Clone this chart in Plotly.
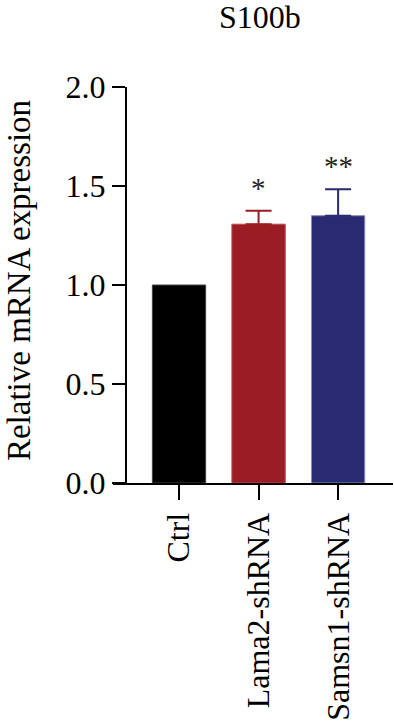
import plotly.graph_objects as go

categories = ["Ctrl", "Lama2-shRNA", "Samsn1-shRNA"]
values = [1.0, 1.307, 1.35]
errors = [0.0, 0.068, 0.133]
colors = ["#000000", "#9B1C22", "#292A72"]
edge_colors = ["#444444", "#B8484D", "#8C8CB8"]
stars = ["", "*", "**"]
y_ticks = [0.0, 0.5, 1.0, 1.5, 2.0]
y_tick_labels = ["0.0", "0.5", "1.0", "1.5", "2.0"]
title = "S100b"
y_title = "Relative mRNA expression"

W, H = 394, 723
ML, MR, MT, MB = 113, 1, 87, 240
PW = W - ML - MR
FONT = "Liberation Serif"
FS = 32


def px_to_paper_x(page_x):
    return (page_x - ML) / PW


fig = go.Figure()
for i, (c, v, e, col, ec) in enumerate(zip(categories, values, errors, colors, edge_colors)):
    fig.add_trace(go.Bar(
        x=[i], y=[v], width=0.67,
        marker=dict(color=col, line=dict(width=1, color=ec)),
        error_y=dict(type="data", symmetric=False, array=[e], arrayminus=[0],
                     color=col, thickness=2, width=13, visible=e > 0),
        showlegend=False, hoverinfo="skip",
    ))

for i, (v, e, s) in enumerate(zip(values, errors, stars)):
    if s:
        fig.add_annotation(x=i, y=v + e, xref="x", yref="y", text=s,
                           showarrow=False, yanchor="bottom", yshift=5,
                           font=dict(family=FONT, size=29, color="#222"))

fig.add_annotation(x=px_to_paper_x(260), y=1, xref="paper", yref="paper",
                   xanchor="center", yanchor="bottom", yshift=50, text=title,
                   showarrow=False, font=dict(family=FONT, size=FS, color="#000"))
fig.add_annotation(x=px_to_paper_x(19), y=0.51, xref="paper", yref="paper",
                   xanchor="center", yanchor="middle",
                   text=y_title, showarrow=False, textangle=-90,
                   font=dict(family=FONT, size=33, color="#000"))

fig.update_layout(
    width=W, height=H,
    margin=dict(l=ML, r=MR, t=MT, b=MB),
    plot_bgcolor="white", paper_bgcolor="white",
    font=dict(family=FONT, size=FS, color="#000"),
    hovermode=False,
    xaxis=dict(
        range=[-0.83, 2.69], tickmode="array", tickvals=[0, 1, 2],
        ticktext=categories, tickangle=-90,
        showline=True, linecolor="#000", linewidth=2,
        ticks="outside", ticklen=15, tickwidth=2, tickcolor="#000",
        showgrid=False, zeroline=False, fixedrange=True,
    ),
    yaxis=dict(
        range=[0, 2.0], tickmode="array", tickvals=y_ticks,
        ticktext=y_tick_labels,
        anchor="free", position=px_to_paper_x(126),
        showline=True, linecolor="#000", linewidth=2,
        ticks="outside", ticklen=13, tickwidth=2, tickcolor="#000",
        showgrid=False, zeroline=False, fixedrange=True,
    ),
)

fig.write_html("out.html", config={"displayModeBar": False, "staticPlot": True},
               post_script="document.body.style.margin='0';document.body.style.overflow='hidden';")
